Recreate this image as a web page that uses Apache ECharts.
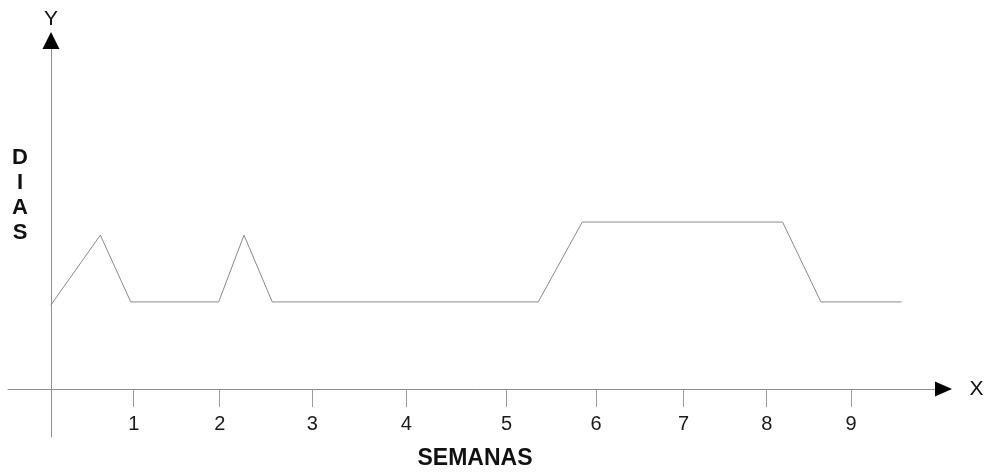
<!DOCTYPE html>
<html>
<head>
<meta charset="utf-8">
<script src="https://cdn.jsdelivr.net/npm/echarts@6/dist/echarts.min.js"></script>
<style>
  html, body { margin: 0; padding: 0; background: #fff; }
  #chart { width: 991px; height: 473px; }
</style>
</head>
<body>
<div id="chart"></div>
<script>
// Weekly profile of days (DIAS) across the weeks (SEMANAS)
const weekX = [0, 0.555, 0.897, 1.886, 2.171, 2.489, 5.481, 5.976, 8.230, 8.661, 9.569];
const diasY = [2.9, 5.3, 3, 3, 5.3, 3, 3, 5.75, 5.75, 3, 3];

// Tick marks along the week axis and their labels
const tickWeeks = [0.93, 1.898, 2.939, 3.997, 5.126, 6.131, 7.117, 8.051, 9.0];
const tickLabels = ['1', '2', '3', '4', '5', '6', '7', '8', '9'];

const axisGray = '#8e8e8e';
const font = 'Liberation Sans, Arial, sans-serif';
const X_RANGE = { min: -0.484, max: 10.04 };
const Y_RANGE = { min: -1.65, max: 12 };

const chart = echarts.init(document.getElementById('chart'), null, { renderer: 'canvas' });

chart.setOption({
  backgroundColor: '#ffffff',
  animation: false,
  grid: { left: 8, right: 47.5, top: 40.5, bottom: 36, containLabel: false, outerBoundsMode: 'none' },
  xAxis: [
    {
      type: 'value',
      min: X_RANGE.min,
      max: X_RANGE.max,
      name: 'X',
      nameLocation: 'end',
      nameGap: 26,
      nameTextStyle: { fontFamily: font, fontSize: 21, color: '#111', verticalAlign: 'middle' },
      splitLine: { show: false },
      axisLine: {
        onZero: true,
        lineStyle: { color: axisGray, width: 1 }
      },
      axisTick: {
        show: true,
        length: 18,
        customValues: tickWeeks,
        lineStyle: { color: '#9a9a9a', width: 1 }
      },
      axisLabel: {
        show: true,
        customValues: tickWeeks,
        // labels are measured from the grid's lower edge
        margin: -23,
        fontFamily: font,
        fontSize: 20,
        color: '#1a1a1a',
        formatter: function (v) {
          const i = tickWeeks.findIndex(t => Math.abs(t - v) < 1e-6);
          return i >= 0 ? tickLabels[i] : '';
        }
      }
    },
    {
      // black arrow head at the end of the X axis
      type: 'value',
      min: X_RANGE.min,
      max: X_RANGE.max,
      splitLine: { show: false },
      axisTick: { show: false },
      axisLabel: { show: false },
      axisLine: {
        onZero: true,
        onZeroAxisIndex: 0,
        symbol: ['none', 'triangle'],
        symbolSize: [15, 17],
        lineStyle: { color: '#000', width: 0 }
      }
    }
  ],
  yAxis: [
    {
      type: 'value',
      position: 'left',
      min: Y_RANGE.min,
      max: Y_RANGE.max,
      name: 'Y',
      nameLocation: 'end',
      nameGap: 11,
      nameTextStyle: { fontFamily: font, fontSize: 21, color: '#111' },
      splitLine: { show: false },
      axisTick: { show: false },
      axisLabel: { show: false },
      axisLine: {
        onZero: true,
        lineStyle: { color: axisGray, width: 1 }
      }
    },
    {
      // black arrow head at the top of the Y axis
      type: 'value',
      position: 'left',
      min: Y_RANGE.min,
      max: Y_RANGE.max,
      splitLine: { show: false },
      axisTick: { show: false },
      axisLabel: { show: false },
      axisLine: {
        onZero: true,
        onZeroAxisIndex: 0,
        symbol: ['none', 'triangle'],
        symbolSize: [17, 17],
        lineStyle: { color: '#000', width: 0 }
      }
    }
  ],
  graphic: [
    {
      type: 'text',
      x: 475,
      y: 447,
      style: {
        text: 'SEMANAS',
        font: 'bold 23px ' + font,
        align: 'center',
        fill: '#111'
      }
    },
    {
      type: 'text',
      x: 20,
      y: 145,
      style: {
        text: 'D\nI\nA\nS',
        font: 'bold 22px ' + font,
        lineHeight: 25,
        align: 'center',
        fill: '#111'
      }
    }
  ],
  series: [
    {
      type: 'line',
      xAxisIndex: 0,
      yAxisIndex: 0,
      data: weekX.map((x, i) => [x, diasY[i]]),
      symbol: 'none',
      lineStyle: { color: '#8a8a8a', width: 1 },
      silent: true
    }
  ]
});
</script>
</body>
</html>
